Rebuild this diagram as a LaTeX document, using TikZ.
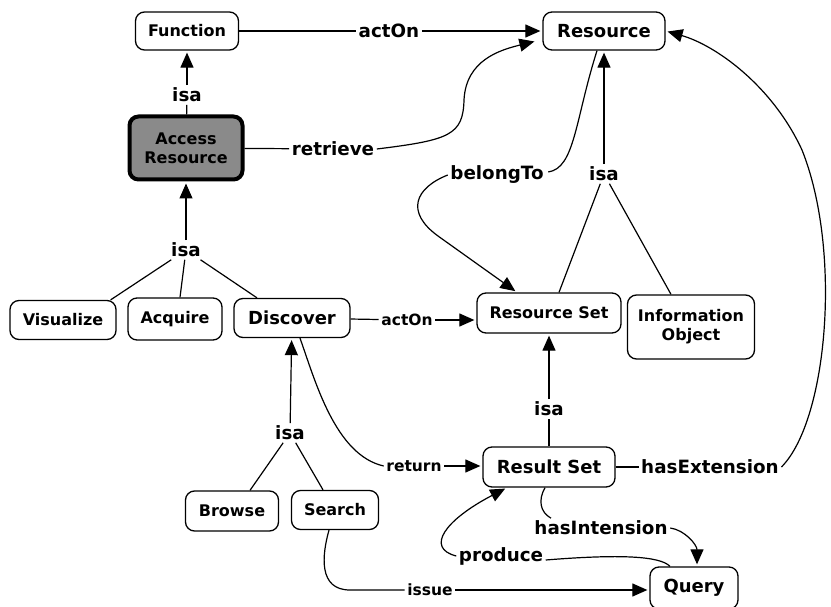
\documentclass[tikz,border=0pt]{standalone}
\usepackage{fontspec}
\setmainfont{DejaVu Sans}
\usetikzlibrary{arrows.meta}
\definecolor{accgray}{RGB}{138,138,138}
\begin{document}
\begin{tikzpicture}[x=1pt,y=-1pt,
 box/.style={draw,rounded corners=9pt,line width=1.3pt,inner sep=0pt,align=center,font=\bfseries\fontsize{16}{19}\selectfont},
 bigbox/.style={box,font=\bfseries\fontsize{18}{21}\selectfont},
 lbl/.style={inner sep=2.5pt,font=\bfseries\fontsize{18.3}{21}\selectfont},
 slbl/.style={inner sep=2.5pt,font=\bfseries\fontsize{15.5}{18}\selectfont},
 con/.style={line width=1.2pt},
 arr/.style={con,-{Triangle[length=15pt,width=13pt]},shorten >=2pt},
]
\useasboundingbox (0,0) rectangle (831,607);
% concepts
\node[box,minimum width=103pt,minimum height=38pt] (func) at (187,31) {Function};
\node[bigbox,minimum width=122pt,minimum height=38pt] (res) at (604,31) {Resource};
\node[box,fill=accgray,line width=4pt,minimum width=113pt,minimum height=63pt] (acc) at (186,148) {Access\\Resource};
\node[box,minimum width=106pt,minimum height=39pt] (vis) at (63,320) {Visualize};
\node[box,minimum width=94pt,minimum height=42pt] (acq) at (175,319) {Acquire};
\node[bigbox,minimum width=116pt,minimum height=39pt] (disc) at (292,318) {Discover};
\node[box,minimum width=144pt,minimum height=40pt] (rset) at (549,313) {Resource Set};
\node[box,minimum width=127pt,minimum height=64pt] (info) at (691,327) {Information\\Object};
\node[bigbox,minimum width=132pt,minimum height=40pt] (result) at (549,467) {Result Set};
\node[box,minimum width=93pt,minimum height=40pt] (browse) at (232,511) {Browse};
\node[box,minimum width=87pt,minimum height=39pt] (search) at (335,510) {Search};
\node[bigbox,minimum width=88pt,minimum height=42pt] (query) at (694,588) {Query};
% link labels
\node[lbl] (l1) at (389,31) {actOn};
\node[lbl] (l2) at (187,95) {isa};
\node[lbl] (l3) at (333,149) {retrieve};
\node[lbl] (l4) at (186,250) {isa};
\node[lbl] (l5) at (497,175) {belongTo};
\node[lbl] (l6) at (604,174) {isa};
\node[slbl] (l7) at (407,320) {actOn};
\node[lbl] (l8) at (290,433) {isa};
\node[lbl] (l9) at (549,409) {isa};
\node[slbl] (l10) at (414,466) {return};
\node[lbl] (l11) at (710,467) {hasExtension};
\node[lbl] (l12) at (601,528) {hasIntension};
\node[lbl] (l13) at (501,556) {produce};
\node[slbl] (l14) at (430,590) {issue};
% connectors
\draw[con] (func) -- (l1);
\draw[arr] (l1) -- (res);
\draw[con] (acc) -- (l2);
\draw[arr] (l2) -- (func);
\draw[con] (acc) -- (l3);
\draw[arr] (l3.east) .. controls (450,140) and (463,135) .. (464,100) .. controls (466,60) and (500,50) .. ([xshift=-6pt,yshift=-10pt]res.west);
\draw[arr] (l4) -- (acc);
\draw[con] (l4) -- ([xshift=-6pt]vis.north east);
\draw[con] (l4) -- ([xshift=5pt]acq.north);
\draw[con] (l4) -- ([xshift=-35pt]disc.north);
\draw[con] ([xshift=-7pt]res.south) .. controls (575,120) and (575,168) .. ([xshift=2pt,yshift=3pt]l5.east);
\draw[arr] (l5.west) .. controls (415,188) and (405,212) .. (438,236) -- ([xshift=-32pt]rset.north);
\draw[arr] (l6) -- (res);
\draw[con] (l6) -- ([xshift=10pt]rset.north);
\draw[con] (l6) -- ([xshift=-20pt]info.north);
\draw[con] (disc) -- (l7);
\draw[arr] (l7) -- (l7 -| rset.west);
\draw[arr] (l8) -- (disc);
\draw[con] (l8) -- ([xshift=18pt]browse.north);
\draw[con] (l8) -- ([xshift=-12pt]search.north);
\draw[con] ([xshift=8pt]disc.south) .. controls (315,380) and (335,455) .. (l10.west);
\draw[arr] (l10) -- (l10 -| result.west);
\draw[con] (result) -- (l9);
\draw[arr] (l9) -- (rset);
\draw[con] (result) -- (l11);
\draw[arr] (l11.east) .. controls (828,420) and (842,250) .. (802,150) .. controls (772,85) and (715,45) .. (res.east);
\draw[con] ([xshift=-4pt]result.south) .. controls (538,500) and (540,512) .. ([xshift=-50pt]l12.north);
\draw[arr] (l12.east) .. controls (685,530) and (697,545) .. ([xshift=3pt]query.north);
\draw[con] ([xshift=-24pt]query.north) .. controls (660,556) and (620,554) .. ([yshift=-4pt]l13.east);
\draw[arr] (l13.west) .. controls (425,548) and (445,520) .. ([xshift=-42pt]result.south);
\draw[con] ([xshift=-6pt]search.south) .. controls (322,555) and (318,590) .. (350,590) -- (l14.west);
\draw[arr] (l14) -- (l14 -| query.west);
\end{tikzpicture}
\end{document}
